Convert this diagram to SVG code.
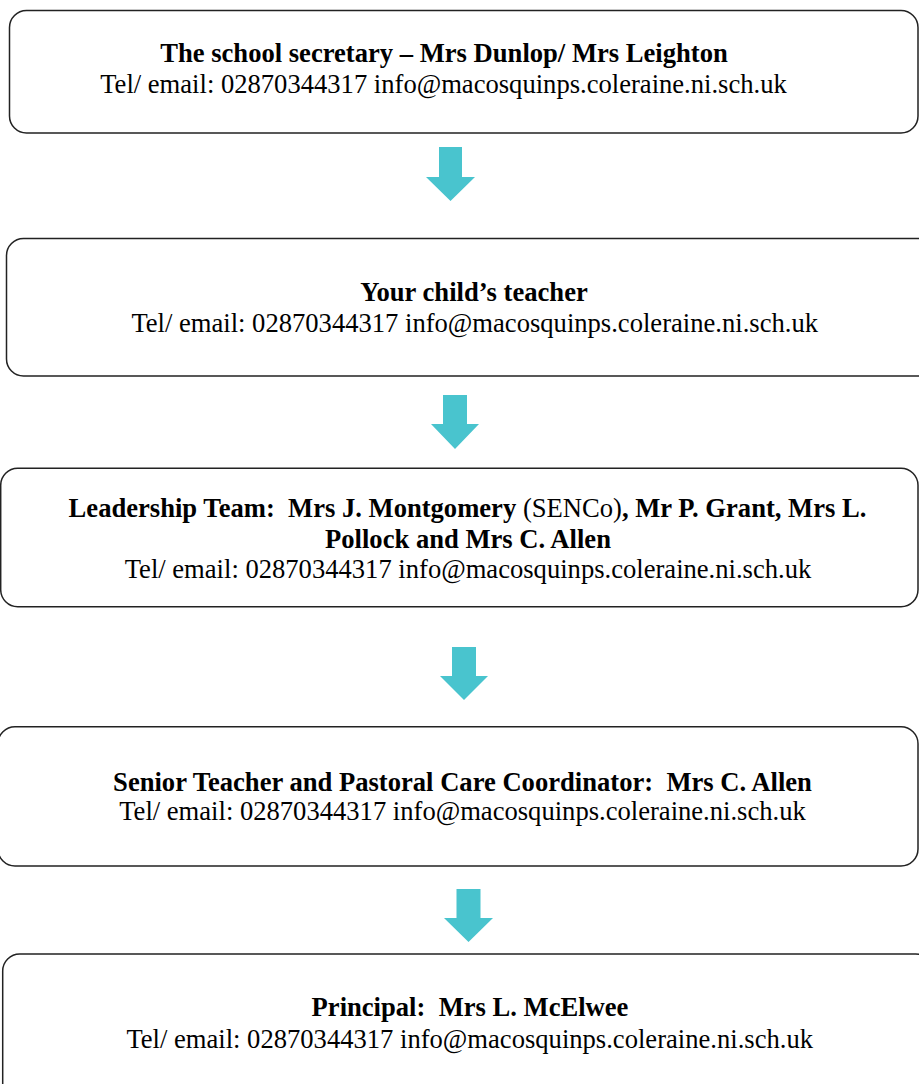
<svg xmlns="http://www.w3.org/2000/svg" width="919" height="1084" viewBox="0 0 919 1084">
<style>
.box{fill:#fff;stroke:#222;stroke-width:1.5}
.arrow{fill:#49C4CE}
text{font-family:"Liberation Serif","Times New Roman",serif;font-size:26.6px;fill:#000;text-anchor:middle;white-space:pre}
.b{font-weight:bold}
.r{font-weight:normal}
</style>
<rect width="919" height="1084" fill="#fff"/>
<g id="connectors">
<path class="arrow" d="M439,147 H462 V177 H475 L450.5,201 L426,177 H439 Z"/>
<path class="arrow" d="M443,395 H467 V424 H479 L455,449 L431,424 H443 Z"/>
<path class="arrow" d="M452,647 H476 V676 H488 L464,700 L440,676 H452 Z"/>
<path class="arrow" d="M456.5,889 H480.5 V918 H493 L468.5,942 L444,918 H456.5 Z"/>
</g>
<g id="node1">
<rect class="box" x="9.5" y="10.5" width="908.5" height="122.5" rx="17"/>
<text class="b" x="444" y="61.7">The school secretary – Mrs Dunlop/ Mrs Leighton</text>
<text x="443.5" y="93">Tel/ email: 02870344317 info@macosquinps.coleraine.ni.sch.uk</text>
</g>
<g id="node2">
<rect class="box" x="6.5" y="238.5" width="930" height="137.5" rx="17"/>
<text class="b" x="474" y="301">Your child’s teacher</text>
<text x="474.7" y="331.7">Tel/ email: 02870344317 info@macosquinps.coleraine.ni.sch.uk</text>
</g>
<g id="node3">
<rect class="box" x="0.7" y="468.3" width="917.3" height="138.4" rx="17"/>
<text class="b" x="467.5" y="516.7">Leadership Team:  Mrs J. Montgomery <tspan class="r">(SENCo)</tspan>, Mr P. Grant, Mrs L.</text>
<text class="b" x="468" y="547.5">Pollock and Mrs C. Allen</text>
<text x="468" y="578.3">Tel/ email: 02870344317 info@macosquinps.coleraine.ni.sch.uk</text>
</g>
<g id="node4">
<rect class="box" x="-2" y="726.7" width="920" height="139.3" rx="17"/>
<text class="b" x="462.5" y="790.5">Senior Teacher and Pastoral Care Coordinator:  Mrs C. Allen</text>
<text x="462.5" y="820">Tel/ email: 02870344317 info@macosquinps.coleraine.ni.sch.uk</text>
</g>
<g id="node5">
<rect class="box" x="2.7" y="954" width="930" height="160" rx="17"/>
<text class="b" x="470" y="1016">Principal:  Mrs L. McElwee</text>
<text x="469.7" y="1048.3">Tel/ email: 02870344317 info@macosquinps.coleraine.ni.sch.uk</text>
</g>
</svg>
